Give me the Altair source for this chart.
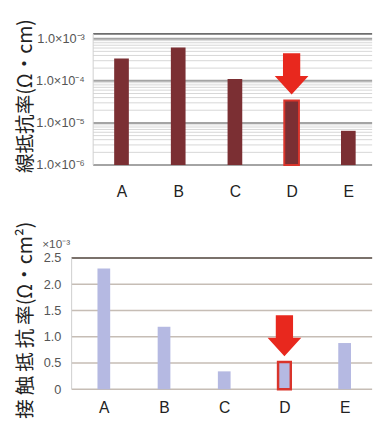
import json
import altair as alt
import pandas as pd

# ---------------- data ----------------
categories = ["A", "B", "C", "D", "E"]
line_resistivity = [3.4e-4, 6.2e-4, 1.1e-4, 3.4e-5, 6.5e-6]      # Ω·cm
contact_resistivity = [2.30, 1.19, 0.34, 0.52, 0.88]            # ×10⁻³ Ω·cm²
highlight = "D"
arrow_top_value = 1.46e-4
arrow_bottom_value = 1.02

top_domain = [1e-6, 1.3e-3]
top_major = [1e-6, 1e-5, 1e-4, 1e-3]
top_minor = [2e-6, 3e-6, 4e-6, 5e-6, 6e-6, 7e-6, 8e-6, 9e-6,
             2e-5, 3e-5, 4e-5, 5e-5, 6e-5, 7e-5, 8e-5, 9e-5,
             2e-4, 3e-4, 4e-4, 5e-4, 6e-4, 7e-4, 8e-4, 9e-4]
bottom_domain = [0, 2.5]
bottom_ticks = [0, 0.5, 1.0, 1.5, 2.0, 2.5]

top_title = "線抵抗率(Ω・cm)"
bottom_title = "接\u2009触\u2009抵\u2009抗\u2009率(Ω・cm²)"
bottom_unit = "×10⁻³"

# category index span of each panel (plot edges, in category units)
top_x_domain = [-0.5, 4.42]
bot_x_domain = [-0.535, 4.457]

# ---------------- layout / styles ----------------
W, H = 378, 411
TOP_X_RANGE = [82, 377]
TOP_Y_RANGE = [156, 22]
BOT_X_RANGE = [60, 377]
BOT_Y_RANGE = [385, 251]

LAT = "Liberation Sans"
CJK = "Noto Sans CJK JP"
ARROW = "M-0.42,-1L0.42,-1L0.42,0.1L0.82,0.1L0,1L-0.82,0.1L-0.42,0.1Z"
RED = "#e8281e"
OUTLINE = "#d9342b"
cat_expr = json.dumps(categories, ensure_ascii=False) + "[round(datum.value)]"

idx = list(range(len(categories)))
df_top = pd.DataFrame({"i": idx, "cat": categories, "v": line_resistivity})
df_bot = pd.DataFrame({"i": idx, "cat": categories, "v": contact_resistivity})
df_major = pd.DataFrame({"v": top_major})
df_minor = pd.DataFrame({"v": top_minor})
df_bgrid = pd.DataFrame({"v": bottom_ticks})
hi_i = categories.index(highlight)
df_arrow_top = pd.DataFrame({"i": [hi_i], "v": [arrow_top_value]})
df_arrow_bot = pd.DataFrame({"i": [hi_i], "v": [arrow_bottom_value]})
df_top_edge = pd.DataFrame({"v": [top_domain[1]]})
df_bot_edge = pd.DataFrame({"v": [bottom_domain[1]]})
df_one = pd.DataFrame({"k": [0]})

# ---------------- top panel ----------------
xs_t = alt.Scale(domain=top_x_domain, range=TOP_X_RANGE, nice=False, zero=False)
ys_t = alt.Scale(type="log", domain=top_domain, range=TOP_Y_RANGE, nice=False)

xax_t = alt.Axis(orient="bottom", offset=-(H - TOP_Y_RANGE[0]), values=idx, labelExpr=cat_expr,
                 title=None, labelAngle=0, labelFontSize=16, labelFont=LAT,
                 labelColor="#222", labelPadding=19, ticks=False, domain=False, grid=False)
yax_t = alt.Axis(orient="left", offset=-TOP_X_RANGE[0], values=top_major,
                 labelExpr="'1.0×10⁻' + ['','','','³','⁴','⁵','⁶'][round(-log(datum.value)/LN10)]",
                 grid=False, ticks=False, domain=False,
                 labelFont=LAT, labelFontSize=13, labelColor="#555", labelPadding=4,
                 title=top_title, titleFont=CJK, titleFontSize=20,
                 titleFontWeight="normal", titleColor="#222",
                 titleAngle=270, titleX=-64, titleY=85,
                 titleAlign="center", titleBaseline="middle")

def hrule_t(df, color, width):
    return alt.Chart(df).mark_rule(color=color, strokeWidth=width).encode(
        x=alt.XDatum(top_x_domain[0], scale=xs_t, axis=xax_t),
        x2=alt.X2Datum(top_x_domain[1]),
        y=alt.Y("v:Q", scale=ys_t, axis=yax_t))

minor_t = hrule_t(df_minor, "#d6d6d6", 1)
major_t = hrule_t(df_major, "#a4a4a4", 2)
edge_t = hrule_t(df_top_edge, "#6e6e6e", 2)
left_t = alt.Chart(df_one).mark_rule(color="#cfcfcf", strokeWidth=1).encode(
    x=alt.XDatum(top_x_domain[0], scale=xs_t, axis=xax_t),
    y=alt.YDatum(top_domain[0], scale=ys_t, axis=yax_t),
    y2=alt.Y2Datum(top_domain[1]))

x_t = alt.X("i:Q", scale=xs_t, axis=xax_t)
y_t = alt.Y("v:Q", scale=ys_t, axis=yax_t)
bars_t = alt.Chart(df_top).mark_bar(color="#7b2f33", size=15).encode(
    x=x_t, y=y_t, y2=alt.Y2Datum(top_domain[0]))
hl_t = alt.Chart(df_top).transform_filter(alt.datum.cat == highlight).mark_bar(
    size=15, fillOpacity=0, stroke=OUTLINE, strokeWidth=2).encode(
    x=x_t, y=y_t, y2=alt.Y2Datum(top_domain[0]))
arrow_t = alt.Chart(df_arrow_top).mark_point(shape=ARROW, filled=True, color=RED,
                                             opacity=1, size=1764, strokeWidth=0).encode(
    x=x_t, y=y_t)

top_panel = alt.layer(minor_t, major_t, edge_t, left_t, bars_t, hl_t, arrow_t)

# ---------------- bottom panel ----------------
xs_b = alt.Scale(domain=bot_x_domain, range=BOT_X_RANGE, nice=False, zero=False)
ys_b = alt.Scale(domain=bottom_domain, range=BOT_Y_RANGE, nice=False, zero=True)

xax_b = alt.Axis(orient="bottom", offset=-(H - BOT_Y_RANGE[0]), values=idx, labelExpr=cat_expr,
                 title=None, labelAngle=0, labelFontSize=16, labelFont=LAT,
                 labelColor="#222", labelPadding=11, ticks=False, domain=False, grid=False)
yax_b = alt.Axis(orient="left", offset=-BOT_X_RANGE[0], values=bottom_ticks,
                 labelExpr="datum.value == 0 ? '0' : format(datum.value, '.1f')",
                 grid=False, ticks=False, domain=False,
                 labelFont=LAT, labelFontSize=13, labelColor="#555", labelPadding=6,
                 title=bottom_title, titleFont=CJK, titleFontSize=20,
                 titleFontWeight="normal", titleColor="#222",
                 titleAngle=270, titleX=-42, titleY=314,
                 titleAlign="center", titleBaseline="middle")

def hrule_b(df, color, width):
    return alt.Chart(df).mark_rule(color=color, strokeWidth=width).encode(
        x=alt.XDatum(bot_x_domain[0], scale=xs_b, axis=xax_b),
        x2=alt.X2Datum(bot_x_domain[1]),
        y=alt.Y("v:Q", scale=ys_b, axis=yax_b))

grid_b = hrule_b(df_bgrid, "#c6bdb5", 1.5)
edge_b = hrule_b(df_bot_edge, "#7a716b", 2)
left_b = alt.Chart(df_one).mark_rule(color="#cfcfcf", strokeWidth=1).encode(
    x=alt.XDatum(bot_x_domain[0], scale=xs_b, axis=xax_b),
    y=alt.YDatum(bottom_domain[0], scale=ys_b, axis=yax_b),
    y2=alt.Y2Datum(bottom_domain[1]))
unit_b = alt.Chart(df_one).mark_text(text=bottom_unit, align="left", baseline="middle",
                                     dx=-30, dy=-14, fontSize=12, font=LAT, color="#555").encode(
    x=alt.XDatum(bot_x_domain[0], scale=xs_b, axis=xax_b),
    y=alt.YDatum(bottom_domain[1], scale=ys_b, axis=yax_b))

x_b = alt.X("i:Q", scale=xs_b, axis=xax_b)
y_b = alt.Y("v:Q", scale=ys_b, axis=yax_b)
bars_b = alt.Chart(df_bot).mark_bar(color="#b5b9e2", size=13).encode(x=x_b, y=y_b)
hl_b = alt.Chart(df_bot).transform_filter(alt.datum.cat == highlight).mark_bar(
    size=13, fillOpacity=0, stroke=OUTLINE, strokeWidth=2.5).encode(x=x_b, y=y_b)
arrow_b = alt.Chart(df_arrow_bot).mark_point(shape=ARROW, filled=True, color=RED,
                                             opacity=1, size=1764, strokeWidth=0).encode(
    x=x_b, y=y_b)

bottom_panel = alt.layer(grid_b, edge_b, left_b, unit_b, bars_b, hl_b, arrow_b)

chart = alt.layer(top_panel, bottom_panel).resolve_scale(
    x="independent", y="independent"
).properties(
    width=W, height=H,
    autosize=alt.AutoSizeParams(type="none"),
    padding=0,
    background="white",
).configure_view(strokeWidth=0)

chart.save("out.html", embed_options={"renderer": "svg", "actions": False})
